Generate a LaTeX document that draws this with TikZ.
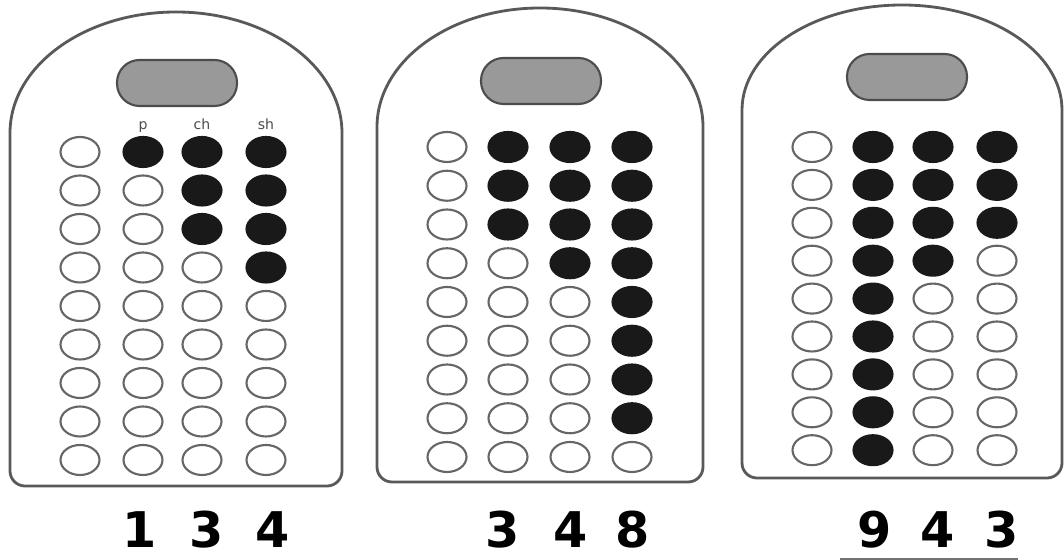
\documentclass[tikz,border=0pt]{standalone}
\usepackage{fontspec}
\setsansfont{DejaVu Sans}
\usetikzlibrary{shapes.geometric}

\begin{document}
\begin{tikzpicture}[
    x=0.02cm, y=0.02cm,
    card/.style={draw=black!65, line width=1.6pt, fill=white},
    pill/.style={rectangle, draw=black!70, fill=black!40, line width=1.2pt, rounded corners=0.45cm, minimum width=2.4cm, minimum height=0.92cm},
    hole/.style={ellipse, draw=black!60, line width=1.2pt, minimum width=0.78cm, minimum height=0.6cm, inner sep=0pt},
    dot/.style={hole, draw=black!90, fill=black!90},
    tag/.style={font=\sffamily\footnotesize, text=black!70, inner sep=0pt, anchor=base},
    digit/.style={font=\sffamily\bfseries\fontsize{28}{31}\selectfont, inner sep=0pt}
]
\useasboundingbox (0,0) rectangle (1064,560);

% card 1
\draw[card] (10,300) -- (10,427) arc[start angle=180, end angle=0, x radius=166, y radius=121]
    -- (342,89) arc[start angle=0, end angle=-90, radius=15]
    -- (25,74) arc[start angle=270, end angle=180, radius=15] -- cycle;
\node[pill] (slot1) at (177,477) {};
\foreach \c/\x/\n in {1/80/0, 2/143/1, 3/202/3, 4/266/4}
  \foreach \r in {1,...,9} {
    \pgfmathsetmacro\yy{408-(\r-1)*38.5}
    \ifnum\r>\n \node[hole] (a-\c-\r) at (\x,\yy) {};
    \else \node[dot] (a-\c-\r) at (\x,\yy) {}; \fi
  }
\node[tag] (tagp) at (143,430) {p};
\node[tag] (tagch) at (202,430) {ch};
\node[tag] (tagsh) at (266,430) {sh};
\node[digit] (a1) at (140,30) {1};
\node[digit] (a2) at (207,30) {3};
\node[digit] (a3) at (273,30) {4};

% card 2
\draw[card] (377,300) -- (377,433) arc[start angle=180, end angle=0, x radius=163, y radius=119]
    -- (703,93) arc[start angle=0, end angle=-90, radius=15]
    -- (392,78) arc[start angle=270, end angle=180, radius=15] -- cycle;
\node[pill] (slot2) at (541,479) {};
\foreach \c/\x/\n in {1/447/0, 2/508/3, 3/570/4, 4/632/8}
  \foreach \r in {1,...,9} {
    \pgfmathsetmacro\yy{413-(\r-1)*38.75}
    \ifnum\r>\n \node[hole] (b-\c-\r) at (\x,\yy) {};
    \else \node[dot] (b-\c-\r) at (\x,\yy) {}; \fi
  }
\node[digit] (b1) at (503,30) {3};
\node[digit] (b2) at (571,30) {4};
\node[digit] (b3) at (633,30) {8};

% card 3
\draw[card] (742,300) -- (742,450) arc[start angle=180, end angle=0, x radius=160, y radius=105]
    -- (1062,97) arc[start angle=0, end angle=-90, radius=15]
    -- (757,82) arc[start angle=270, end angle=180, radius=15] -- cycle;
\node[pill] (slot3) at (907,483) {};
\foreach \c/\x/\n in {1/812/0, 2/873/9, 3/933/4, 4/997/3}
  \foreach \r in {1,...,9} {
    \pgfmathsetmacro\yy{413-(\r-1)*37.9}
    \ifnum\r>\n \node[hole] (c-\c-\r) at (\x,\yy) {};
    \else \node[dot] (c-\c-\r) at (\x,\yy) {}; \fi
  }
\node[digit] (c1) at (875,30) {9};
\node[digit] (c2) at (938,30) {4};
\node[digit] (c3) at (1002,30) {3};
\draw[black!55, line width=1.2pt] (840,1) -- (1018,1);
\end{tikzpicture}
\end{document}
